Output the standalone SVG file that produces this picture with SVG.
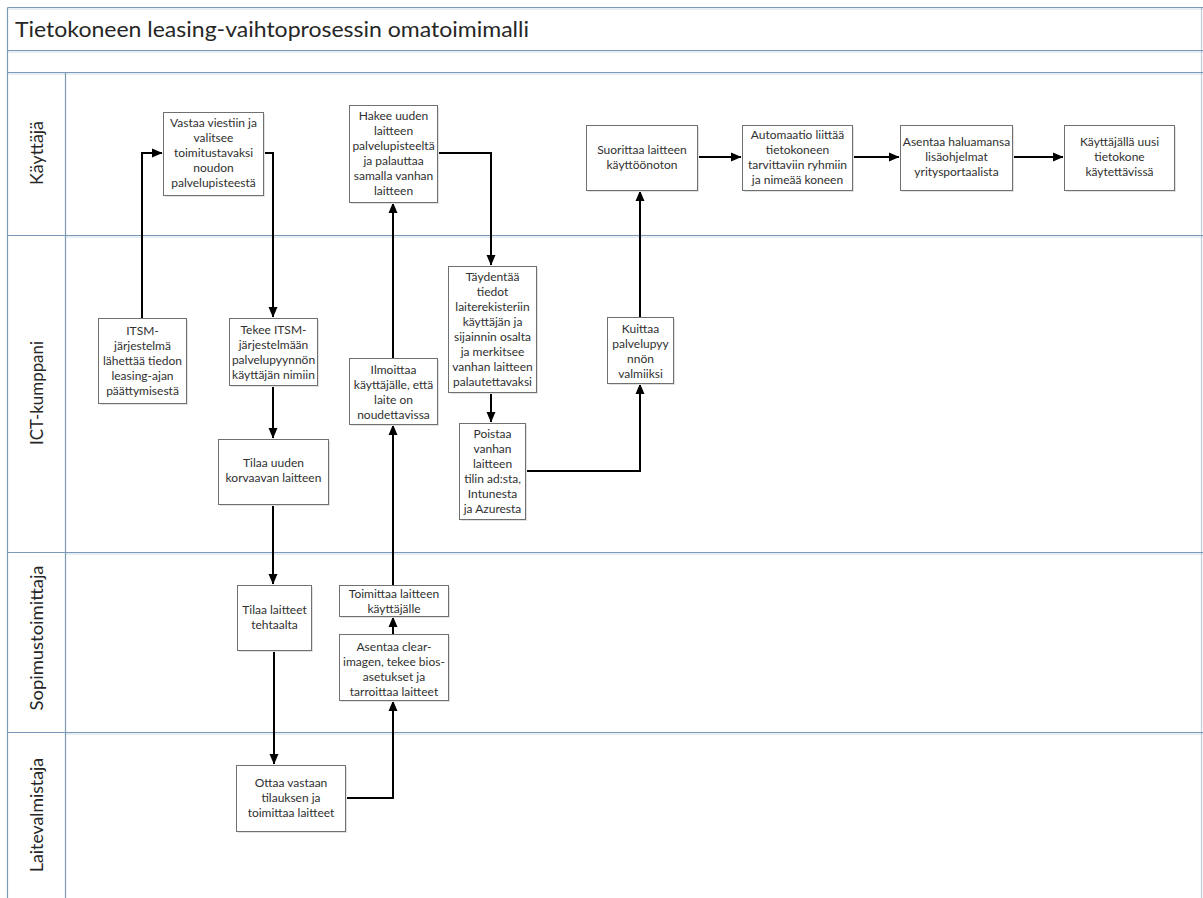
<svg xmlns="http://www.w3.org/2000/svg" width="1203" height="898" viewBox="0 0 1203 898">
  <style>
    .bg { fill: #ffffff; }
    .lane { stroke: #7d99b8; stroke-width: 1.2; fill: none; }
    .glow { stroke: #dfe8f1; stroke-width: 1.5; fill: none; }
    .title { font-family: Lato, "Liberation Sans", sans-serif; font-size: 21px; fill: #262626; }
    .lanelabel { font-family: Lato, "Liberation Sans", sans-serif; font-size: 18px; fill: #262626; text-anchor: middle; }
    .box { fill: #ffffff; stroke: #707070; stroke-width: 1; }
    .shadow { fill: #e2e2e2; }
    .t { font-family: Lato, "Liberation Sans", sans-serif; font-size: 12px; fill: #303030; text-anchor: middle; }
    .conn { stroke: #000000; stroke-width: 2; fill: none; }
  </style>
  <defs>
    <marker id="arrow" markerUnits="userSpaceOnUse" markerWidth="11" markerHeight="10" refX="10" refY="5" orient="auto">
      <path d="M0,0.5 L10.5,5 L0,9.5 z" fill="#000000"/>
    </marker>
  </defs>

  <rect class="bg" x="0" y="0" width="1203" height="898"/>

  <!-- pool frame and swimlanes -->
  <g id="pool">
    <line class="glow" x1="8" y1="9" x2="1203" y2="9"/>
    <line class="glow" x1="8" y1="52" x2="1203" y2="52"/>
    <line class="glow" x1="8" y1="74" x2="1203" y2="74"/>
    <line class="glow" x1="66" y1="237" x2="1203" y2="237"/>
    <line class="glow" x1="66" y1="554" x2="1203" y2="554"/>
    <line class="glow" x1="66" y1="734" x2="1203" y2="734"/>
    <line class="lane" x1="7.5" y1="7.5" x2="1203" y2="7.5"/>
    <line class="lane" x1="7.5" y1="50.5" x2="1203" y2="50.5"/>
    <line class="lane" x1="7.5" y1="72.5" x2="1203" y2="72.5"/>
    <line class="lane" x1="7.5" y1="235.5" x2="1203" y2="235.5"/>
    <line class="lane" x1="7.5" y1="552.5" x2="1203" y2="552.5"/>
    <line class="lane" x1="7.5" y1="732.5" x2="1203" y2="732.5"/>
    <line class="lane" x1="7.5" y1="7.5" x2="7.5" y2="898"/>
    <line class="lane" x1="65.5" y1="72.5" x2="65.5" y2="898"/>
    <line class="lane" x1="1201.5" y1="7.5" x2="1201.5" y2="898" stroke-opacity="0.5"/>
    <text class="title" x="15" y="37" textLength="514" lengthAdjust="spacingAndGlyphs">Tietokoneen leasing-vaihtoprosessin omatoimimalli</text>
  </g>

  <g id="lane-kayttaja">
    <text class="lanelabel" transform="translate(43,153) rotate(-90)" textLength="64" lengthAdjust="spacingAndGlyphs">Käyttäjä</text>
  </g>
  <g id="lane-ict">
    <text class="lanelabel" transform="translate(43,393) rotate(-90)" textLength="104" lengthAdjust="spacingAndGlyphs">ICT-kumppani</text>
  </g>
  <g id="lane-sopimus">
    <text class="lanelabel" transform="translate(43,638) rotate(-90)" textLength="145" lengthAdjust="spacingAndGlyphs">Sopimustoimittaja</text>
  </g>
  <g id="lane-laitevalmistaja">
    <text class="lanelabel" transform="translate(43,815) rotate(-90)" textLength="114" lengthAdjust="spacingAndGlyphs">Laitevalmistaja</text>
  </g>

  <!-- connectors -->
  <g id="connectors">
    <polyline class="conn" points="142,318 142,153 162,153" marker-end="url(#arrow)"/>
    <polyline class="conn" points="263,153 273,153 273,317" marker-end="url(#arrow)"/>
    <polyline class="conn" points="273,385 273,438" marker-end="url(#arrow)"/>
    <polyline class="conn" points="273,504 273,584" marker-end="url(#arrow)"/>
    <polyline class="conn" points="274,650 274,764" marker-end="url(#arrow)"/>
    <polyline class="conn" points="345,798 393,798 393,701" marker-end="url(#arrow)"/>
    <polyline class="conn" points="393,634 393,617" marker-end="url(#arrow)"/>
    <polyline class="conn" points="393,585 393,425" marker-end="url(#arrow)"/>
    <polyline class="conn" points="393,358 393,203" marker-end="url(#arrow)"/>
    <polyline class="conn" points="437,153 491,153 491,265" marker-end="url(#arrow)"/>
    <polyline class="conn" points="491,392 491,422" marker-end="url(#arrow)"/>
    <polyline class="conn" points="525,471 640,471 640,384" marker-end="url(#arrow)"/>
    <polyline class="conn" points="640,317 640,191" marker-end="url(#arrow)"/>
    <polyline class="conn" points="697,157 741,157" marker-end="url(#arrow)"/>
    <polyline class="conn" points="852,157 899,157" marker-end="url(#arrow)"/>
    <polyline class="conn" points="1012,157 1063,157" marker-end="url(#arrow)"/>
  </g>

  <!-- Käyttäjä -->
  <g id="n-vastaa">
    <rect class="shadow" x="165" y="114" width="100" height="83"/>
    <rect class="box" x="163.5" y="112.5" width="100" height="83"/>
    <text class="t" x="213.5" y="127">Vastaa viestiin ja</text>
    <text class="t" x="213.5" y="142">valitsee</text>
    <text class="t" x="213.5" y="157">toimitustavaksi</text>
    <text class="t" x="213.5" y="172">noudon</text>
    <text class="t" x="213.5" y="187">palvelupisteestä</text>
  </g>
  <g id="n-hakee">
    <rect class="shadow" x="351" y="107" width="88" height="97"/>
    <rect class="box" x="349.5" y="105.5" width="88" height="97"/>
    <text class="t" x="393.5" y="120">Hakee uuden</text>
    <text class="t" x="393.5" y="135">laitteen</text>
    <text class="t" x="393.5" y="150">palvelupisteeltä</text>
    <text class="t" x="393.5" y="165">ja palauttaa</text>
    <text class="t" x="393.5" y="180">samalla vanhan</text>
    <text class="t" x="393.5" y="195">laitteen</text>
  </g>
  <g id="n-suorittaa">
    <rect class="shadow" x="588" y="127" width="111" height="65"/>
    <rect class="box" x="586.5" y="125.5" width="111" height="65"/>
    <text class="t" x="642" y="154">Suorittaa laitteen</text>
    <text class="t" x="642" y="169">käyttöönoton</text>
  </g>
  <g id="n-automaatio">
    <rect class="shadow" x="744" y="127" width="110" height="65"/>
    <rect class="box" x="742.5" y="125.5" width="110" height="65"/>
    <text class="t" x="797.5" y="139">Automaatio liittää</text>
    <text class="t" x="797.5" y="154">tietokoneen</text>
    <text class="t" x="797.5" y="169">tarvittaviin ryhmiin</text>
    <text class="t" x="797.5" y="184">ja nimeää koneen</text>
  </g>
  <g id="n-lisaohjelmat">
    <rect class="shadow" x="902" y="127" width="112" height="65"/>
    <rect class="box" x="900.5" y="125.5" width="112" height="65"/>
    <text class="t" x="956.5" y="146">Asentaa haluamansa</text>
    <text class="t" x="956.5" y="161">lisäohjelmat</text>
    <text class="t" x="956.5" y="176">yritysportaalista</text>
  </g>
  <g id="n-valmis">
    <rect class="shadow" x="1066" y="127" width="110" height="65"/>
    <rect class="box" x="1064.5" y="125.5" width="110" height="65"/>
    <text class="t" x="1119.5" y="146">Käyttäjällä uusi</text>
    <text class="t" x="1119.5" y="161">tietokone</text>
    <text class="t" x="1119.5" y="176">käytettävissä</text>
  </g>

  <!-- ICT-kumppani -->
  <g id="n-itsm">
    <rect class="shadow" x="100" y="320" width="88" height="85"/>
    <rect class="box" x="98.5" y="318.5" width="88" height="85"/>
    <text class="t" x="142.5" y="335">ITSM-</text>
    <text class="t" x="142.5" y="350">järjestelmä</text>
    <text class="t" x="142.5" y="365">lähettää tiedon</text>
    <text class="t" x="142.5" y="380">leasing-ajan</text>
    <text class="t" x="142.5" y="395">päättymisestä</text>
  </g>
  <g id="n-tekee">
    <rect class="shadow" x="231" y="320" width="88" height="67"/>
    <rect class="box" x="229.5" y="318.5" width="88" height="67"/>
    <text class="t" x="273.5" y="334">Tekee ITSM-</text>
    <text class="t" x="273.5" y="349">järjestelmään</text>
    <text class="t" x="273.5" y="364">palvelupyynnön</text>
    <text class="t" x="273.5" y="379">käyttäjän nimiin</text>
  </g>
  <g id="n-tilaa-uuden">
    <rect class="shadow" x="220" y="441" width="110" height="65"/>
    <rect class="box" x="218.5" y="439.5" width="110" height="65"/>
    <text class="t" x="273.5" y="467">Tilaa uuden</text>
    <text class="t" x="273.5" y="482">korvaavan laitteen</text>
  </g>
  <g id="n-ilmoittaa">
    <rect class="shadow" x="351" y="360" width="88" height="66"/>
    <rect class="box" x="349.5" y="358.5" width="88" height="66"/>
    <text class="t" x="393.5" y="374">Ilmoittaa</text>
    <text class="t" x="393.5" y="389">käyttäjälle, että</text>
    <text class="t" x="393.5" y="404">laite on</text>
    <text class="t" x="393.5" y="419">noudettavissa</text>
  </g>
  <g id="n-taydentaa">
    <rect class="shadow" x="450" y="268" width="88" height="126"/>
    <rect class="box" x="448.5" y="266.5" width="88" height="126"/>
    <text class="t" x="492.5" y="281">Täydentää</text>
    <text class="t" x="492.5" y="296">tiedot</text>
    <text class="t" x="492.5" y="311">laiterekisteriin</text>
    <text class="t" x="492.5" y="326">käyttäjän ja</text>
    <text class="t" x="492.5" y="341">sijainnin osalta</text>
    <text class="t" x="492.5" y="356">ja merkitsee</text>
    <text class="t" x="492.5" y="371">vanhan laitteen</text>
    <text class="t" x="492.5" y="386">palautettavaksi</text>
  </g>
  <g id="n-poistaa">
    <rect class="shadow" x="461" y="425" width="66" height="96"/>
    <rect class="box" x="459.5" y="423.5" width="66" height="96"/>
    <text class="t" x="492.5" y="438">Poistaa</text>
    <text class="t" x="492.5" y="453">vanhan</text>
    <text class="t" x="492.5" y="468">laitteen</text>
    <text class="t" x="492.5" y="483">tilin ad:sta,</text>
    <text class="t" x="492.5" y="498">Intunesta</text>
    <text class="t" x="492.5" y="513">ja Azuresta</text>
  </g>
  <g id="n-kuittaa">
    <rect class="shadow" x="609" y="319" width="66" height="66"/>
    <rect class="box" x="607.5" y="317.5" width="66" height="66"/>
    <text class="t" x="640.5" y="333">Kuittaa</text>
    <text class="t" x="640.5" y="348">palvelupyy</text>
    <text class="t" x="640.5" y="363">nnön</text>
    <text class="t" x="640.5" y="378">valmiiksi</text>
  </g>

  <!-- Sopimustoimittaja -->
  <g id="n-tilaa-laitteet">
    <rect class="shadow" x="239" y="587" width="74" height="65"/>
    <rect class="box" x="237.5" y="585.5" width="74" height="65"/>
    <text class="t" x="274.5" y="614">Tilaa laitteet</text>
    <text class="t" x="274.5" y="629">tehtaalta</text>
  </g>
  <g id="n-toimittaa">
    <rect class="shadow" x="341" y="587" width="109" height="31"/>
    <rect class="box" x="339.5" y="585.5" width="109" height="31"/>
    <text class="t" x="394" y="598">Toimittaa laitteen</text>
    <text class="t" x="394" y="613">käyttäjälle</text>
  </g>
  <g id="n-asentaa-image">
    <rect class="shadow" x="341" y="636" width="109" height="66"/>
    <rect class="box" x="339.5" y="634.5" width="109" height="66"/>
    <text class="t" x="394" y="651">Asentaa clear-</text>
    <text class="t" x="394" y="666">imagen, tekee bios-</text>
    <text class="t" x="394" y="681">asetukset ja</text>
    <text class="t" x="394" y="696">tarroittaa laitteet</text>
  </g>

  <!-- Laitevalmistaja -->
  <g id="n-ottaa">
    <rect class="shadow" x="238" y="767" width="109" height="66"/>
    <rect class="box" x="236.5" y="765.5" width="109" height="66"/>
    <text class="t" x="291" y="787">Ottaa vastaan</text>
    <text class="t" x="291" y="802">tilauksen ja</text>
    <text class="t" x="291" y="817">toimittaa laitteet</text>
  </g>
</svg>
